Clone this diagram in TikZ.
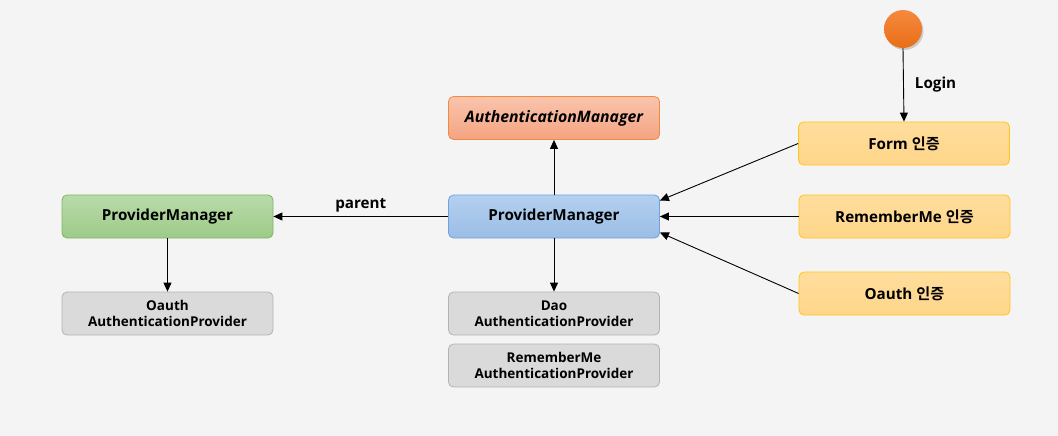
\documentclass[tikz,border=0pt]{standalone}
\usepackage{fontspec}
\setmainfont{Open Sans}
\newfontfamily\kr{Noto Sans CJK KR}[BoldFont={* Bold}]
\usetikzlibrary{arrows.meta,shadows}
\definecolor{bg}{HTML}{F4F4F4}
\definecolor{orTop}{HTML}{F9C4AC}
\definecolor{orBot}{HTML}{F4A482}
\definecolor{orLine}{HTML}{F08A3C}
\definecolor{blTop}{HTML}{B3D0EF}
\definecolor{blBot}{HTML}{9BBDE6}
\definecolor{blLine}{HTML}{6EA3DC}
\definecolor{grTop}{HTML}{B8DBA9}
\definecolor{grBot}{HTML}{9ECB88}
\definecolor{grLine}{HTML}{82B366}
\definecolor{gyFill}{HTML}{DADADA}
\definecolor{gyLine}{HTML}{B3B3B3}
\definecolor{ylTop}{HTML}{FFDD9C}
\definecolor{ylBot}{HTML}{FFD68A}
\definecolor{ylLine}{HTML}{FFC31A}
\definecolor{circTop}{HTML}{F5893F}
\definecolor{circBot}{HTML}{EA6E17}
\begin{document}
\begin{tikzpicture}[x=1pt,y=-1pt,
  font=\bfseries\fontsize{15.2}{18}\selectfont,
  box/.style={draw, rounded corners=5pt, minimum width=211pt, minimum height=43pt,
    inner sep=0pt, align=center, line width=0.8pt},
  orbox/.style={box, draw=orLine, top color=orTop, bottom color=orBot},
  blbox/.style={box, draw=blLine, top color=blTop, bottom color=blBot},
  grbox/.style={box, draw=grLine, top color=grTop, bottom color=grBot},
  gybox/.style={box, draw=gyLine, fill=gyFill, font=\bfseries\fontsize{13.5}{16}\selectfont},
  ylbox/.style={box, draw=ylLine, top color=ylTop, bottom color=ylBot},
  ar/.style={-{Triangle[length=9pt,width=8pt]}, line width=0.9pt, black},
  lbl/.style={inner sep=1pt}
]
\fill[bg] (0,0) rectangle (1058,436);
\useasboundingbox (0,0) rectangle (1058,436);

\node[orbox] (am) at (554,118) {\itshape\fontsize{15.8}{18}\selectfont AuthenticationManager};
\node[blbox] (pm) at (554,216.5) {ProviderManager};
\node[grbox] (pp) at (167.5,216.5) {ProviderManager};
\node[gybox] (oap) at (167.5,313.5) {Oauth\\AuthenticationProvider};
\node[gybox] (dap) at (554,313.5) {Dao\\AuthenticationProvider};
\node[gybox] (rap) at (554,365.5) {RememberMe\\AuthenticationProvider};
\node[ylbox] (form) at (904,143.5) {Form {\kr 인증}};
\node[ylbox] (rem) at (904.5,216.5) {RememberMe {\kr 인증}};
\node[ylbox] (oau) at (904.5,293.5) {Oauth {\kr 인증}};
\node[circle, minimum size=38pt, inner sep=0pt, draw=none,
  top color=circTop, bottom color=circBot,
  drop shadow={opacity=0.35, shadow xshift=1.5pt, shadow yshift=-2pt}] (start) at (903,29) {};

\draw[ar] (start.south) -- (form.north) node[lbl, midway, right=10pt] {Login};
\draw[ar] (pm.north) -- (am.south);
\draw[ar] (pm.south) -- (dap.north);
\draw[ar] (pm.west) -- (pp.east) node[lbl, midway, above=3pt] {parent};
\draw[ar] (pp.south) -- (oap.north);
\draw[ar] (form.west) -- ([yshift=16pt]pm.east);
\draw[ar] (rem.west) -- (pm.east);
\draw[ar] (oau.west) -- ([yshift=-16pt]pm.east);
\end{tikzpicture}
\end{document}
